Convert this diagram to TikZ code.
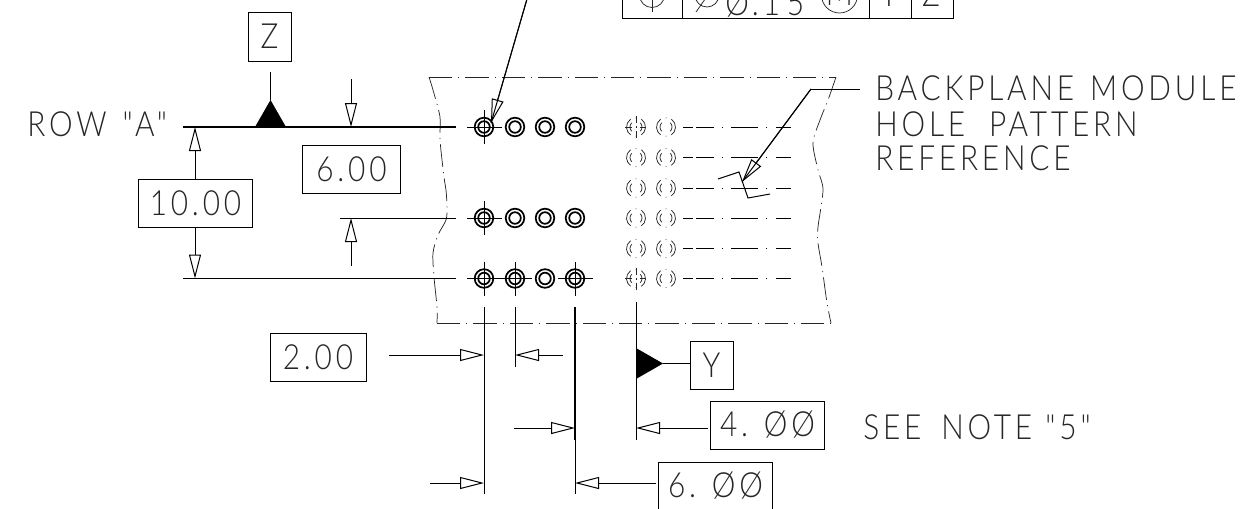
\documentclass[tikz,border=0pt]{standalone}
\usepackage{fontspec}
\usetikzlibrary{arrows.meta}
\newfontfamily\cad{Lato Light}[FakeStretch=0.86,LetterSpace=11]
\newcommand{\stri}{\cad\fontsize{26}{30}\selectfont}
\tikzset{
  x=0.75pt,y=-0.75pt,
  ln/.style={line width=0.75pt,black},
  thickln/.style={line width=0.95pt,black},
  thinln/.style={line width=0.55pt,black!85},
  txt/.style={font=\stri,inner sep=0pt,anchor=base west,text=black!85},
  boxed/.style={draw,line width=0.75pt,inner sep=0pt,font=\stri,text=black!85},
  openhead/.style={ln,-{Triangle[open,length=18pt,width=9pt,line width=0.75pt]}},
  phantom/.style={thinln,dash pattern=on 17.5pt off 4.5pt on 0.8pt off 4.5pt},
  cline/.style={ln,dash pattern=on 7.5pt off 2.25pt on 13.5pt off 6pt on 0.75pt off 6pt on 20pt off 6.5pt on 0.75pt off 6.5pt on 11.25pt off 100pt},
  solidhole/.pic={\draw[line width=1.3pt] (0,0) circle[radius=9.3]; \draw[line width=1.3pt] (0,0) circle[radius=5.8];},
  hiddenhole/.pic={
    \draw[thinln] (-125:9.5) arc[start angle=-125,end angle=-235,radius=9.5];
    \draw[thinln] (-55:9.5) arc[start angle=-55,end angle=55,radius=9.5];
    \draw[thinln] (-135:6) arc[start angle=-135,end angle=-225,radius=6];
    \draw[thinln] (-45:6) arc[start angle=-45,end angle=45,radius=6];
    \fill[black!80] (0,-9.2) circle[radius=0.5] (0,9.2) circle[radius=0.5];},
}
\begin{document}
\begin{tikzpicture}
\useasboundingbox (0,0) rectangle (1241,508);
\fill[white] (0,0) rectangle (1241,508);
\begin{scope}
\clip (0,0) rectangle (1241,508);

% feature control frame, cut by the top edge
\draw[ln] (622,-5) -- (622,18) -- (953,18) -- (953,-5);
\draw[ln] (682,-5) -- (682,18);
\draw[ln] (869,-5) -- (869,18);
\draw[ln] (911,-5) -- (911,18);
\draw[thinln] (652,-5) circle[radius=12.5];
\draw[thinln] (652.5,-20) -- (652.5,12);
\draw[thinln] (707,-5) circle[radius=12];
\draw[thinln] (696,12) -- (722,-25);
\node[txt] (tol) at (725,15.7) {Ø.\hspace{3pt}1\hspace{5pt}5};
\draw[thinln] (839.5,-5) circle[radius=18];
\node[txt,anchor=base] (mm) at (839.5,5) {M};
\node[txt,anchor=base] (fy) at (889,6) {Y};
\node[txt,anchor=base] (fz) at (931,6) {Z};

% outline
\draw[phantom] (429,77) -- (836,77);
\draw[phantom] (437,323) -- (832,323);
\draw[thinln,dash pattern=on 17pt off 4pt on 0.8pt off 4pt] plot[smooth] coordinates {(429,77)(433,90)(440,117)(440,140)(444,177)(446,190)(447,207)(446,220)(438,235)(433,253)(434,277)(437,307)(437,323)};
\draw[thinln,dash pattern=on 17pt off 4pt on 0.8pt off 4pt] plot[smooth] coordinates {(836,77)(828,100)(820,120)(813,143)(818,170)(823,190)(818,227)(818,243)(822,267)(827,303)(831,323)};

% holes
\foreach \y in {127,218,278.5}
  \foreach \x in {484,515,545,575}
    \pic at (\x,\y) {solidhole};
\foreach \y in {127,157.5,188,218,248.5,278.5} {
  \pic at (636,\y) {hiddenhole};
  \pic at (666,\y) {hiddenhole};
  \draw[cline] (683,\y) -- (792,\y);
}
% centre marks
\foreach \y in {127,218,278.5} {
  \draw[ln] (467,\y) -- (502,\y);
  \draw[ln] (484,\y-17) -- (484,\y+17);
}
\draw[ln] (497,278.5) -- (532,278.5);
\draw[ln] (515,262) -- (515,296);
\draw[ln] (558,278.5) -- (593,278.5);
\draw[ln] (575,262) -- (575,296);
\foreach \y in {127,278.5} {
  \draw[thinln] (625,\y) -- (632,\y) (635.5,\y) -- (636.5,\y) (640,\y) -- (646,\y);
  \draw[thinln] (636,\y-11) -- (636,\y-4) (636,\y-1) -- (636,\y+1) (636,\y+4) -- (636,\y+11);
}

% boxes
\node[boxed,minimum width=32.25pt,minimum height=36.75pt] (bz) at (269.5,36.5) {Z};
\node[boxed,minimum width=32.25pt,minimum height=36pt] (by) at (711.5,365) {Y};
\node[boxed,minimum width=73.5pt,minimum height=36pt] (b600a) at (351.5,169) {6.00};
\node[boxed,minimum width=85pt,minimum height=36pt] (b1000) at (195.5,203) {10.00};
\node[boxed,minimum width=72pt,minimum height=36pt] (b200) at (318,357.5) {2.00};
\node[boxed,minimum width=86pt,minimum height=36pt] (b400) at (767.5,425) {4. ØØ};
\node[boxed,minimum width=86pt,minimum height=36pt] (b600b) at (715.5,486) {6. ØØ};

% texts
\node[txt] (rowa) at (27,136) {ROW\hspace{12pt}"A"};
\node[txt] (t1) at (875,100) {BACKPLANE\hspace{3pt} MODULE};
\node[txt] (t2) at (875,136) {HOLE\hspace{9pt} PATTERN};
\node[txt] (t3) at (875,170) {REFERENCE};
\node[txt] (t4) at (863,439) {SEE\hspace{6pt} NOTE\hspace{1pt} "5"};

% extension lines
\coordinate (ra) at (183,127); \coordinate (rae) at (456,127);
\coordinate (rb) at (340,218); \coordinate (rbe) at (456,218);
\coordinate (rc) at (183,278.5); \coordinate (rce) at (456,278.5);
\draw[thickln] (ra) -- (rae);
\draw[ln] (rb) -- (rbe);
\draw[ln] (rc) -- (rce);
\coordinate (e1a) at (484,307); \coordinate (e1b) at (484,494);
\coordinate (e2a) at (515,307); \coordinate (e2b) at (515,367);
\coordinate (e3a) at (575,307); \coordinate (e3m) at (575,440); \coordinate (e3b) at (575,494);
\coordinate (e4a) at (636,302); \coordinate (e4b) at (636,440);
\draw[ln] (e1a) -- (e1b);
\draw[ln] (e2a) -- (e2b);
\draw[line width=1.1pt] (e3a) -- (e3m);
\draw[ln] (e3m) -- (e3b);
\draw[ln] (e4a) -- (e4b);

% datum Z and Y
\coordinate (zl) at (270.5,100);
\fill[black] (zl) -- (286,127) -- (255,127) -- cycle;
\draw[ln] (270.5,72) -- (zl);
\coordinate (yl) at (663,363.5);
\fill[black] (636,348) -- (yl) -- (636,379) -- cycle;
\draw[ln] (yl) -- (by.west |- yl);

% dimensions
\coordinate (d1) at (351,79); \coordinate (d1t) at (351,127);
\coordinate (d2) at (351,266); \coordinate (d2t) at (351,218);
\draw[openhead] (d1) -- (d1t);
\draw[openhead] (d2) -- (d2t);
\coordinate (d3t) at (195,127); \coordinate (d4t) at (195,278.5);
\draw[openhead] (b1000.north -| d3t) -- (d3t);
\draw[openhead] (b1000.south -| d4t) -- (d4t);
\coordinate (d5) at (389,355); \coordinate (d5t) at (484,355);
\coordinate (d6) at (563,355); \coordinate (d6t) at (515,355);
\draw[openhead] (d5) -- (d5t);
\draw[openhead] (d6) -- (d6t);
\coordinate (d7) at (514,428); \coordinate (d7t) at (575,428);
\coordinate (d8) at (708,428); \coordinate (d8t) at (636,428);
\draw[openhead] (d7) -- (d7t);
\draw[openhead] (d8) -- (d8t);
\coordinate (d9) at (430,483); \coordinate (d9t) at (484,483);
\coordinate (d10) at (656,483); \coordinate (d10t) at (575,483);
\draw[openhead] (d9) -- (d9t);
\draw[openhead] (d10) -- (d10t);

% leaders
\coordinate (l1) at (527,-1); \coordinate (l1t) at (491,123);
\draw[openhead] (l1) -- (l1t);
\draw[ln] (l1) -- (l1t);
\coordinate (l2) at (860,89); \coordinate (l2k) at (811,89); \coordinate (l2t) at (742,182);
\draw[ln] (l2) -- (l2k);
\draw[openhead] (l2k) -- (l2t);
\draw[ln] (l2k) -- (l2t);
\draw[ln] (718,179) -- (739,172) -- (748,198) -- (770,194);
\end{scope}
\end{tikzpicture}
\end{document}
